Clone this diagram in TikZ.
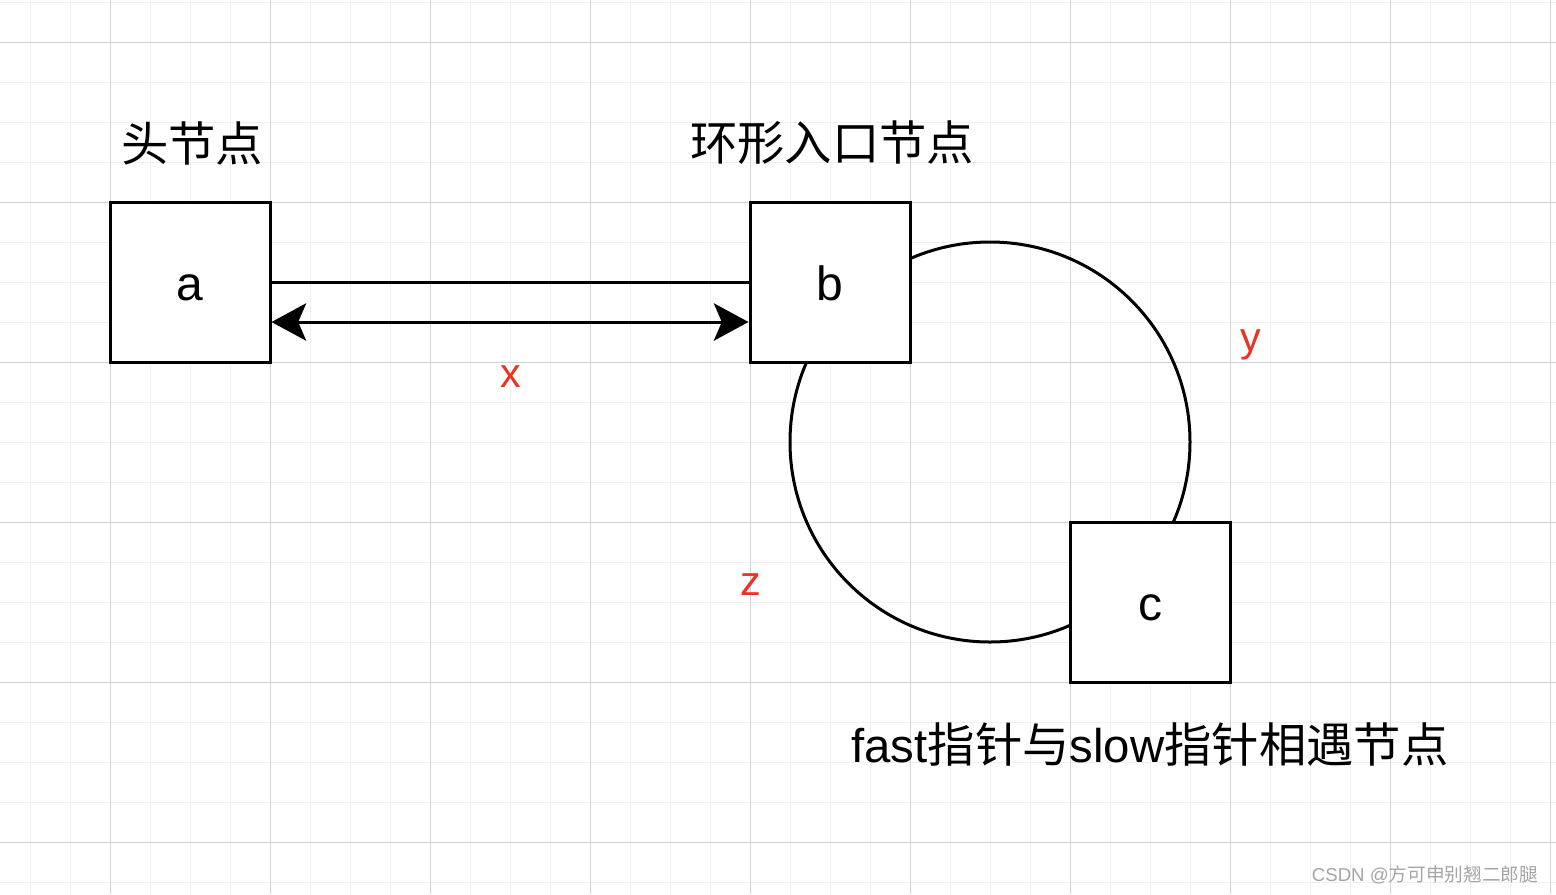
\documentclass[tikz,border=0pt]{standalone}
\usepackage{fontspec}
\setmainfont{Liberation Sans}
\newfontfamily\cjk{Noto Sans CJK SC}
\usetikzlibrary{arrows.meta}
\definecolor{gridminor}{RGB}{240,240,240}
\definecolor{gridmajor}{RGB}{210,210,210}
\definecolor{lenred}{RGB}{234,51,35}
\definecolor{markgray}{RGB}{165,165,165}

\tikzset{
  cell/.style={draw, line width=2.25pt, fill=white, minimum size=120pt, inner sep=0pt,
    text height=28pt, text depth=0pt, font=\fontsize{36}{40}\selectfont},
  caption/.style={inner sep=0pt, font=\cjk\fontsize{35.5}{40}\selectfont},
  lenlabel/.style={inner sep=0pt, text=lenred, font=\fontsize{31}{34}\selectfont},
  link/.style={line width=2.25pt},
  twoway/.style={line width=2.25pt, {Stealth[length=26pt,width=28pt,inset=6pt]}-{Stealth[length=26pt,width=28pt,inset=6pt]}},
}

\begin{document}
\begin{tikzpicture}[x=0.75pt,y=0.75pt,yscale=-1,xscale=1]
\useasboundingbox (0,0) rectangle (1556,894);
\fill[white] (0,0) rectangle (1556,894);
% Grid
\foreach \gx in {30,70,...,1550} \draw[gridminor, line width=0.75pt] (\gx,0) -- (\gx,894);
\foreach \gy in {2,42,...,882} \draw[gridminor, line width=0.75pt] (0,\gy) -- (1556,\gy);
\foreach \gx in {110,270,...,1550} \draw[gridmajor, line width=0.75pt] (\gx,0) -- (\gx,894);
\foreach \gy in {42,202,...,842} \draw[gridmajor, line width=0.75pt] (0,\gy) -- (1556,\gy);

%Shape: Circle
\node[circle, draw, line width=2.25pt, minimum size=300pt, inner sep=0pt] (ring) at (990,442) {};

%Shape: Square
\node[cell] (a) at (190,282) {a};
%Shape: Square
\node[cell] (b) at (830,282) {b};
%Shape: Square
\node[cell] (c) at (1150,602) {c};

%Straight Lines
\draw[link] (a.east) -- (b.west);
%Straight Lines
\draw[twoway] ([yshift=30pt]a.east) -- ([yshift=30pt]b.west);

% Text Node
\node[caption] (headtxt) at (192,143) {头节点};
% Text Node
\node[caption] (entrytxt) at (832,143) {环形入口节点};
% Text Node
\node[caption] (meettxt) at (1150,745) {{\rmfamily fast}指针与{\rmfamily slow}指针相遇节点};
% Text Node
\node[lenlabel] (lx) at (511,377) {x};
% Text Node
\node[lenlabel] (ly) at (1251,345) {y};
% Text Node
\node[lenlabel] (lz) at (751,585) {z};
% Text Node
\node[inner sep=0pt, text=markgray, font=\fontsize{14}{16}\selectfont] (mark) at (1425,875) {CSDN @{\cjk 方可申别翘二郎腿}};
\end{tikzpicture}
\end{document}
